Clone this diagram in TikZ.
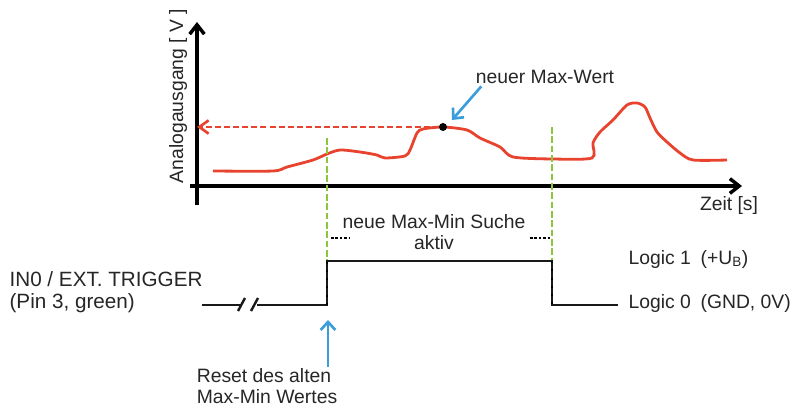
\documentclass[tikz,border=0pt]{standalone}
\usepackage{fontspec}
\setmainfont{Liberation Sans}
\usetikzlibrary{arrows.meta,positioning,calc}
\definecolor{sigred}{HTML}{E8432E}
\definecolor{trggreen}{HTML}{8CC63F}
\definecolor{markblue}{HTML}{3B9DDB}

\begin{document}
\begin{tikzpicture}[
  x=0.75pt, y=-0.75pt,
  lbl/.style={inner sep=1pt, text=black!85, font=\fontsize{14.5}{15.5}\selectfont},
  axis/.style={line width=2.6pt, -{Straight Barb[length=7pt,width=11pt]}},
  curve/.style={sigred, line width=2.1pt, line join=round},
  maxline/.style={sigred, line width=2pt, dash pattern=on 4.5pt off 2.3pt, -{Straight Barb[length=7pt,width=10pt]}},
  trig/.style={trggreen, line width=2pt, dash pattern=on 5pt off 2pt},
  signal/.style={black!90, line width=1.8pt},
  edgedot/.style={black, line width=1.5pt, dash pattern=on 1.5pt off 4.7pt},
  hint/.style={black, line width=1.2pt, dash pattern=on 2pt off 1.3pt},
  markarr/.style={markblue, line width=2pt, -{Straight Barb[length=6pt,width=11pt]}},
  dot/.style={circle, fill=black, inner sep=0pt, minimum size=6pt}
]
\useasboundingbox (0,0) rectangle (793,407);

% axes
\coordinate (origin) at (197,186);
\coordinate (ytop) at (197,22);
\coordinate (ybot) at (197,205);
\coordinate (xleft) at (190,186);
\coordinate (xright) at (742,186);
\draw[axis] (ybot) -- (ytop);
\draw[axis] (xleft) -- (xright);
\node[lbl, rotate=90] (ylabel) at (178,96) {Analogausgang [ V ]};
\node[lbl] (xlabel) at (729,205) {Zeit [s]};

% analog signal
\draw[curve] plot[smooth, tension=0.45] coordinates {
  (213,171) (273,171) (287,167) (313,160) (327,154) (340,150) (360,152)
  (377,155) (385,158) (405,156) (410,150) (417,133) (423,129) (443,127)
  (467,130) (480,138) (500,147) (513,157) (553,159) (592,158) (593,143)
  (600,132) (613,120) (627,105) (637,103) (645,107) (650,118) (657,132)
  (667,142) (680,153) (693,160) (727,160)};
\node[dot] (maxdot) at (443,127) {};
\coordinate (ymax) at (197,127);
\draw[maxline] (maxdot) -- (ymax);
\node[lbl] (maxlabel) at (545,77) {neuer Max-Wert};
\coordinate (maxtip) at (452,120);
\draw[markarr] ($(maxlabel.south west)+(7,1)$) -- (maxtip);

% trigger input
\coordinate (lowstart) at (202,305);
\coordinate (rise) at (327,305);
\coordinate (risetop) at (327,261);
\coordinate (fall) at (552,261);
\coordinate (fallbot) at (552,305);
\coordinate (lowend) at (618,305);
\draw[trig] (327,138) -- (rise);
\draw[trig] (552,127) -- (fallbot);
\draw[signal] (lowstart) -- (241,305) (257,305) -- (rise) -- (risetop) -- (fall) -- (fallbot) -- (lowend);
\draw[signal] (238,311) -- (245,298) (251,311) -- (258,298);
\draw[edgedot] (rise) -- (risetop);
\draw[edgedot] (fall) -- (fallbot);
\draw[hint] (331,238) -- (350,238);
\draw[hint] (530,238) -- (550,238);
\node[lbl, align=center] (search) at (434,232) {neue Max-Min Suche\\aktiv};
\node[lbl, anchor=west] (logic1) at (627,259) {Logic 1\enspace(+U\textsubscript{B})};
\node[lbl, anchor=west] (logic0) at (627,303) {Logic 0\enspace(GND, 0V)};
\node[lbl, anchor=west, align=left, font=\fontsize{15.5}{16.5}\selectfont] (trigger) at (8,292) {IN0 / EXT. TRIGGER\\(Pin 3, green)};

% reset
\node[lbl, align=left] (reset) at (267,386) {Reset des alten\\Max-Min Wertes};
\coordinate (resettip) at (328,320);
\draw[markarr] (reset.north -| resettip) -- (resettip);
\end{tikzpicture}
\end{document}
